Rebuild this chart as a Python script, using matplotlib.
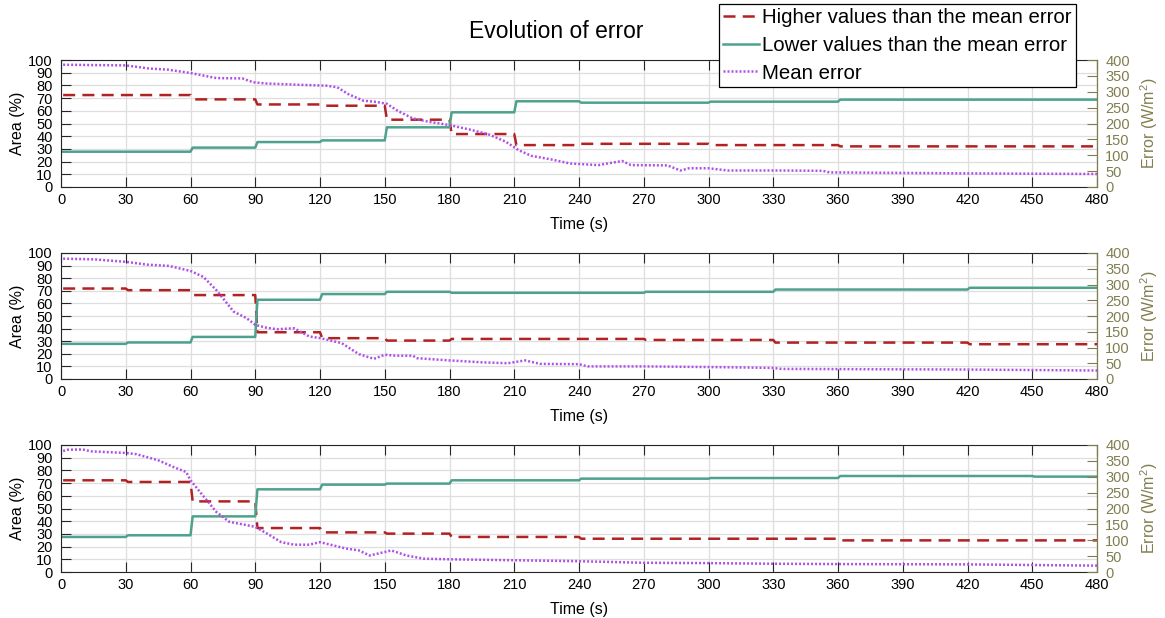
import matplotlib
matplotlib.use('Agg')
import matplotlib.pyplot as plt
from matplotlib.lines import Line2D

plt.rcParams['font.family'] = ['Liberation Sans', 'DejaVu Sans']
plt.rcParams['mathtext.default'] = 'regular'

# --- data ---
x_ticks = list(range(0, 481, 30))
area_ticks = list(range(0, 101, 10))
error_ticks = list(range(0, 401, 50))

# panel 1
high_t1 = [1, 60, 61, 90, 91, 120, 121, 150, 151, 180, 181, 210, 211, 240, 241, 300, 301, 360, 361, 480]
high_v1 = [72.4, 72.4, 69, 69, 65, 65, 64, 64, 53, 53, 41.7, 41.7, 33, 33, 34, 34, 33, 33, 32, 32]
low_t1 = [1, 60, 61, 90, 91, 120, 121, 150, 151, 180, 181, 210, 211, 240, 241, 300, 301, 360, 361, 480]
low_v1 = [27.8, 27.8, 31, 31, 35.4, 35.4, 36.7, 36.7, 47, 47, 58.8, 58.8, 67.5, 67.5, 66.4, 66.4, 67.2, 67.2, 68.8, 68.8]
mean_t1 = [1, 30, 41, 49, 60, 72, 84, 89, 95, 110, 123, 128, 133, 140, 146, 151, 156, 163, 170, 180,
           190, 198, 206, 212, 218, 227, 236, 249, 260, 264, 281, 287, 291, 300, 309, 332, 353, 356, 417, 480]
mean_v1 = [385, 383, 373, 370, 359, 343, 342, 330, 326, 322, 319, 314, 293, 272, 268, 262, 240, 216, 206, 195,
           180, 166, 143, 116, 98, 87, 74, 69, 82, 69, 68, 52, 59, 59, 52, 52, 51, 46, 43, 41]

# panel 2
high_t2 = [1, 30, 31, 60, 61, 90, 91, 120, 121, 150, 151, 180, 181, 270, 271, 330, 331, 420, 421, 480]
high_v2 = [71.8, 71.8, 70.5, 70.5, 66.6, 66.6, 37.1, 37.1, 32.4, 32.4, 30.5, 30.5, 31.8, 31.8, 31, 31, 28.9, 28.9, 27.6, 27.6]
low_t2 = [1, 30, 31, 60, 61, 90, 91, 120, 121, 150, 151, 180, 181, 270, 271, 330, 331, 420, 421, 480]
low_v2 = [27.9, 27.9, 29, 29, 33.4, 33.4, 62.9, 62.9, 67.4, 67.4, 69.2, 69.2, 68.4, 68.4, 69.2, 69.2, 71, 71, 72.4, 72.4]
mean_t2 = [1, 15, 30, 40, 50, 60, 66, 72, 80, 86, 90, 95, 100, 108, 115, 120, 130, 138, 145, 150,
           155, 163, 165, 180, 195, 207, 215, 222, 240, 244, 270, 300, 322, 330, 334, 420, 480]
mean_v2 = [382, 380, 372, 363, 359, 343, 324, 282, 214, 193, 172, 163, 158, 161, 135, 130, 114, 79, 64, 77,
           74, 74, 66, 59, 53, 50, 59, 48, 47, 40, 40, 38, 36, 35, 32, 30, 27]

# panel 3
high_t3 = [1, 30, 31, 60, 61, 90, 91, 120, 121, 150, 151, 180, 181, 240, 241, 360, 361, 480]
high_v3 = [72.2, 72.2, 70.9, 70.9, 55.6, 55.6, 34.6, 34.6, 31.2, 31.2, 30.2, 30.2, 27.6, 27.6, 26.2, 26.2, 24.9, 24.9]
low_t3 = [1, 30, 31, 60, 61, 90, 91, 120, 121, 150, 151, 180, 181, 240, 241, 300, 301, 360, 361, 450, 451, 480]
low_v3 = [27.6, 27.6, 28.9, 28.9, 43.8, 43.8, 65.1, 65.1, 68.8, 68.8, 69.6, 69.6, 72.2, 72.2, 73.5, 73.5, 74, 74,
          75.6, 75.6, 75.1, 75.1]
mean_t3 = [1, 3, 10, 14, 30, 35, 45, 53, 58, 60, 65, 72, 78, 85, 90, 96, 102, 108, 115, 120,
           126, 132, 138, 143, 150, 153, 160, 168, 180, 210, 240, 270, 300, 330, 360, 420, 480]
mean_v3 = [381, 385, 386, 380, 375, 371, 352, 328, 315, 289, 247, 189, 158, 149, 142, 119, 94, 86, 86, 94,
           84, 74, 68, 52, 63, 68, 52, 42, 40, 37, 34, 29, 28, 26, 25, 24, 20]

panels = [
    (high_t1, high_v1, low_t1, low_v1, mean_t1, mean_v1),
    (high_t2, high_v2, low_t2, low_v2, mean_t2, mean_v2),
    (high_t3, high_v3, low_t3, low_v3, mean_t3, mean_v3),
]

c_high = '#B22222'
c_low = '#4DA28D'
c_mean = '#B150E8'
c_right = '#817D4E'
c_spine = '#262626'
dash_high = (4.8, 2.9)
dot_mean = (0, (0.8, 0.8))

W, H = 1165, 618
fig = plt.figure(figsize=(W / 100, H / 100), dpi=100)

# axes boxes in pixels: (top, bottom)
boxes = [(60, 187), (253, 379), (445, 572)]
left_px, right_px = 61, 1097

for (top, bot), (ht, hv, lt, lv, mt, mv) in zip(boxes, panels):
    ax = fig.add_axes([left_px / W, 1 - bot / H, (right_px - left_px) / W, (bot - top) / H])
    ax.plot(ht, hv, color=c_high, lw=1.8, dashes=dash_high)
    ax.plot(lt, lv, color=c_low, lw=1.8)
    ax.set_xlim(0, 480)
    ax.set_ylim(0, 100)
    ax.set_xticks(x_ticks)
    ax.set_yticks(area_ticks)
    ax.grid(True, color='#DEDEDE', lw=0.9)
    ax.set_axisbelow(True)
    ax.tick_params(axis='both', direction='in', length=7, width=0.8, labelsize=10.5,
                   color=c_spine, top=True, right=False)
    ax.tick_params(axis='y', pad=6)
    ax.tick_params(axis='x', pad=4.5)
    ax.set_xlabel('Time (s)', fontsize=11.5, labelpad=7)
    ax.set_ylabel('Area (%)', fontsize=11.5, labelpad=2)
    for s in ax.spines.values():
        s.set_color(c_spine)
        s.set_linewidth(0.8)

    ax2 = ax.twinx()
    ax2.plot(mt, mv, color=c_mean, lw=1.8, linestyle=dot_mean)
    ax2.set_ylim(0, 400)
    ax2.set_yticks(error_ticks)
    ax2.tick_params(axis='y', direction='in', length=7, width=0.8, labelsize=10.5,
                    color=c_right, labelcolor=c_right, pad=6)
    ax2.spines['right'].set_color(c_right)
    ax2.spines['right'].set_linewidth(0.8)
    for k in ['left', 'top', 'bottom']:
        ax2.spines[k].set_visible(False)
    ax2.set_ylabel('Error (W/m$^2$)', fontsize=11.5, color=c_right, labelpad=6)

fig.text(556 / W, 1 - 31 / H, 'Evolution of error', fontsize=16.5, ha='center', va='center')

handles = [
    Line2D([0], [0], color=c_high, lw=1.8, dashes=dash_high),
    Line2D([0], [0], color=c_low, lw=1.8),
    Line2D([0], [0], color=c_mean, lw=1.8, linestyle=dot_mean),
]
labels = ['Higher values than the mean error', 'Lower values than the mean error', 'Mean error']
leg = fig.legend(handles, labels, loc='upper left', bbox_to_anchor=(719 / W, 1 - 4 / H),
                 borderaxespad=0, fontsize=14.7, frameon=True, fancybox=False, framealpha=1,
                 edgecolor='black', handlelength=1.75, handletextpad=0.15, borderpad=0.22,
                 labelspacing=0.42)
leg.get_frame().set_linewidth(0.9)

fig.savefig('out.png', dpi=100)
